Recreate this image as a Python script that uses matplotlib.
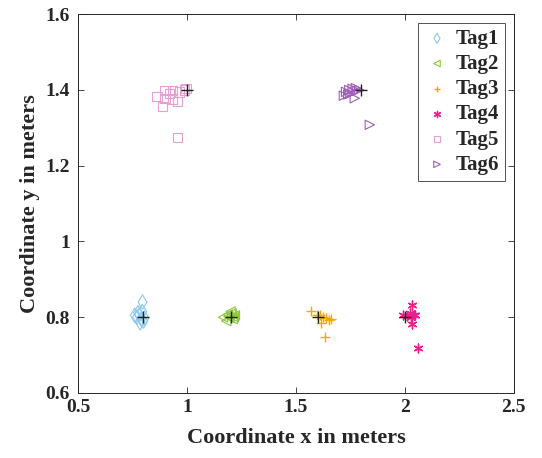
import matplotlib
matplotlib.use("Agg")
import matplotlib.pyplot as plt

# estimated tag positions (meters)
tag1_x = [0.781, 0.796, 0.770, 0.790, 0.775, 0.800, 0.785, 0.760, 0.795, 0.805]
tag1_y = [0.807, 0.840, 0.800, 0.795, 0.812, 0.790, 0.785, 0.805, 0.815, 0.798]
tag2_x = [1.187, 1.200, 1.165, 1.210, 1.180, 1.220, 1.195, 1.205, 1.215, 1.190]
tag2_y = [0.807, 0.815, 0.800, 0.795, 0.790, 0.805, 0.798, 0.810, 0.800, 0.802]
tag3_x = [1.570, 1.609, 1.640, 1.662, 1.617, 1.632, 1.595, 1.625, 1.650]
tag3_y = [0.816, 0.807, 0.798, 0.796, 0.785, 0.747, 0.805, 0.800, 0.793]
tag4_x = [2.031, 2.023, 1.993, 2.046, 2.035, 2.062, 2.010, 2.030, 2.040]
tag4_y = [0.831, 0.811, 0.805, 0.807, 0.782, 0.718, 0.802, 0.800, 0.805]
tag5_x = [0.862, 0.899, 0.899, 0.888, 0.934, 0.934, 0.957, 0.965, 0.989, 0.995, 0.957, 0.920]
tag5_y = [1.383, 1.399, 1.378, 1.357, 1.399, 1.376, 1.370, 1.395, 1.400, 1.403, 1.275, 1.390]
tag6_x = [1.839, 1.770, 1.730, 1.745, 1.760, 1.775, 1.790, 1.720, 1.750, 1.765, 1.780, 1.740]
tag6_y = [1.308, 1.378, 1.395, 1.400, 1.403, 1.405, 1.400, 1.385, 1.390, 1.395, 1.398, 1.388]

true_x = [0.8, 1.2, 1.6, 2.0, 1.0, 1.8]
true_y = [0.8, 0.8, 0.8, 0.8, 1.4, 1.4]

tags = [
    ("Tag1", tag1_x, tag1_y, "d", "#8cc8f0", True, 55),
    ("Tag2", tag2_x, tag2_y, "<", "#8cc63e", True, 45),
    ("Tag3", tag3_x, tag3_y, "+", "#f5a800", False, 50),
    ("Tag4", tag4_x, tag4_y, (6, 2, 0), "#ec1e8c", False, 40),
    ("Tag5", tag5_x, tag5_y, "s", "#e8a0d2", True, 45),
    ("Tag6", tag6_x, tag6_y, ">", "#a05cb8", True, 45),
]

plt.rcParams["font.family"] = ["Liberation Serif", "DejaVu Serif"]
plt.rcParams["font.weight"] = "bold"

fig = plt.figure(figsize=(5.42, 4.58), dpi=100)
ax = fig.add_axes([0.144, 0.142, 0.804, 0.827])

for name, xs, ys, mk, col, hollow, sz in tags:
    if hollow:
        ax.scatter(xs, ys, marker=mk, s=sz, facecolors="none",
                   edgecolors=col, linewidths=0.8, label=name)
    else:
        ax.scatter(xs, ys, marker=mk, s=sz, color=col, linewidths=1.0, label=name)

ax.scatter(true_x, true_y, marker="+", s=65, color="#222222", linewidths=1.0, zorder=5)

ax.set_xlim(0.5, 2.5)
ax.set_ylim(0.6, 1.6)
ax.set_xticks([0.5, 1, 1.5, 2, 2.5])
ax.set_xticklabels(["0.5", "1", "1.5", "2", "2.5"])
ax.set_yticks([0.6, 0.8, 1.0, 1.2, 1.4, 1.6])
ax.set_yticklabels(["0.6", "0.8", "1", "1.2", "1.4", "1.6"])
ax.tick_params(direction="in", top=True, right=True, labelsize=14,
               colors="#262626", length=4, width=0.6)
ax.tick_params(axis="x", pad=4)
ax.tick_params(axis="y", pad=6)
for sp in ax.spines.values():
    sp.set_color("#262626")
    sp.set_linewidth(0.7)

ax.set_xlabel("Coordinate x in meters", fontsize=16, fontweight="bold",
              color="#262626", labelpad=9)
ax.set_ylabel("Coordinate y in meters", fontsize=16, fontweight="bold",
              color="#262626", labelpad=4)

leg = ax.legend(loc="upper right", fontsize=15, frameon=True, fancybox=False,
                edgecolor="#262626", handletextpad=0.3, borderpad=0.3,
                labelspacing=0.25, handlelength=1.2, markerscale=0.7,
                borderaxespad=0.4)
leg.get_frame().set_linewidth(0.7)
for t in leg.get_texts():
    t.set_color("#262626")

fig.savefig("out.png", dpi=100)
